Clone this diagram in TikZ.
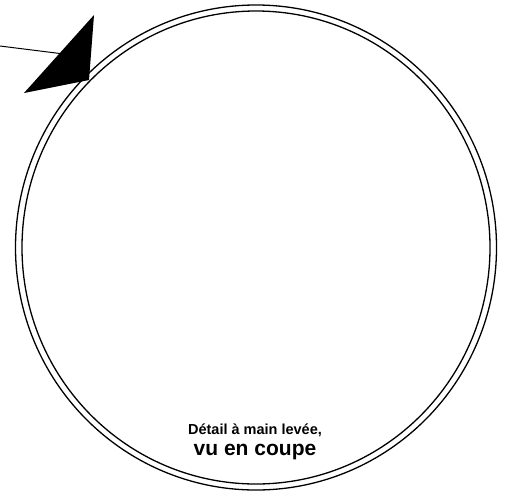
\documentclass[tikz,border=0pt]{standalone}
\usepackage{fontspec}
\setmainfont{Liberation Sans}
\begin{document}
\begin{tikzpicture}[x=1pt,y=-1pt,
  ring/.style={line width=1.3pt},
  caption/.style={font=\bfseries, inner sep=0pt, anchor=base}]
\useasboundingbox (0,0) rectangle (518,496);
\coordinate (c) at (256,247.5);
\draw[ring] (c) ellipse [x radius=240.5, y radius=242.5];
\draw[ring] (c) ellipse [x radius=234, y radius=236.5];
\coordinate (lead) at (0,46);
\coordinate (tA) at (94,15);
\coordinate (tB) at (89,80);
\coordinate (tC) at (24,93);
\draw[line width=1pt] (lead) -- (60,53.5);
\fill (tA) -- (tB) -- (tC) -- cycle;
\node[caption, font=\bfseries\fontsize{14.5}{16}\selectfont] (t1) at (255,434) {Détail à main levée,};
\node[caption, font=\bfseries\fontsize{21}{24}\selectfont] (t2) at (255,455) {vu en coupe};
\end{tikzpicture}
\end{document}
